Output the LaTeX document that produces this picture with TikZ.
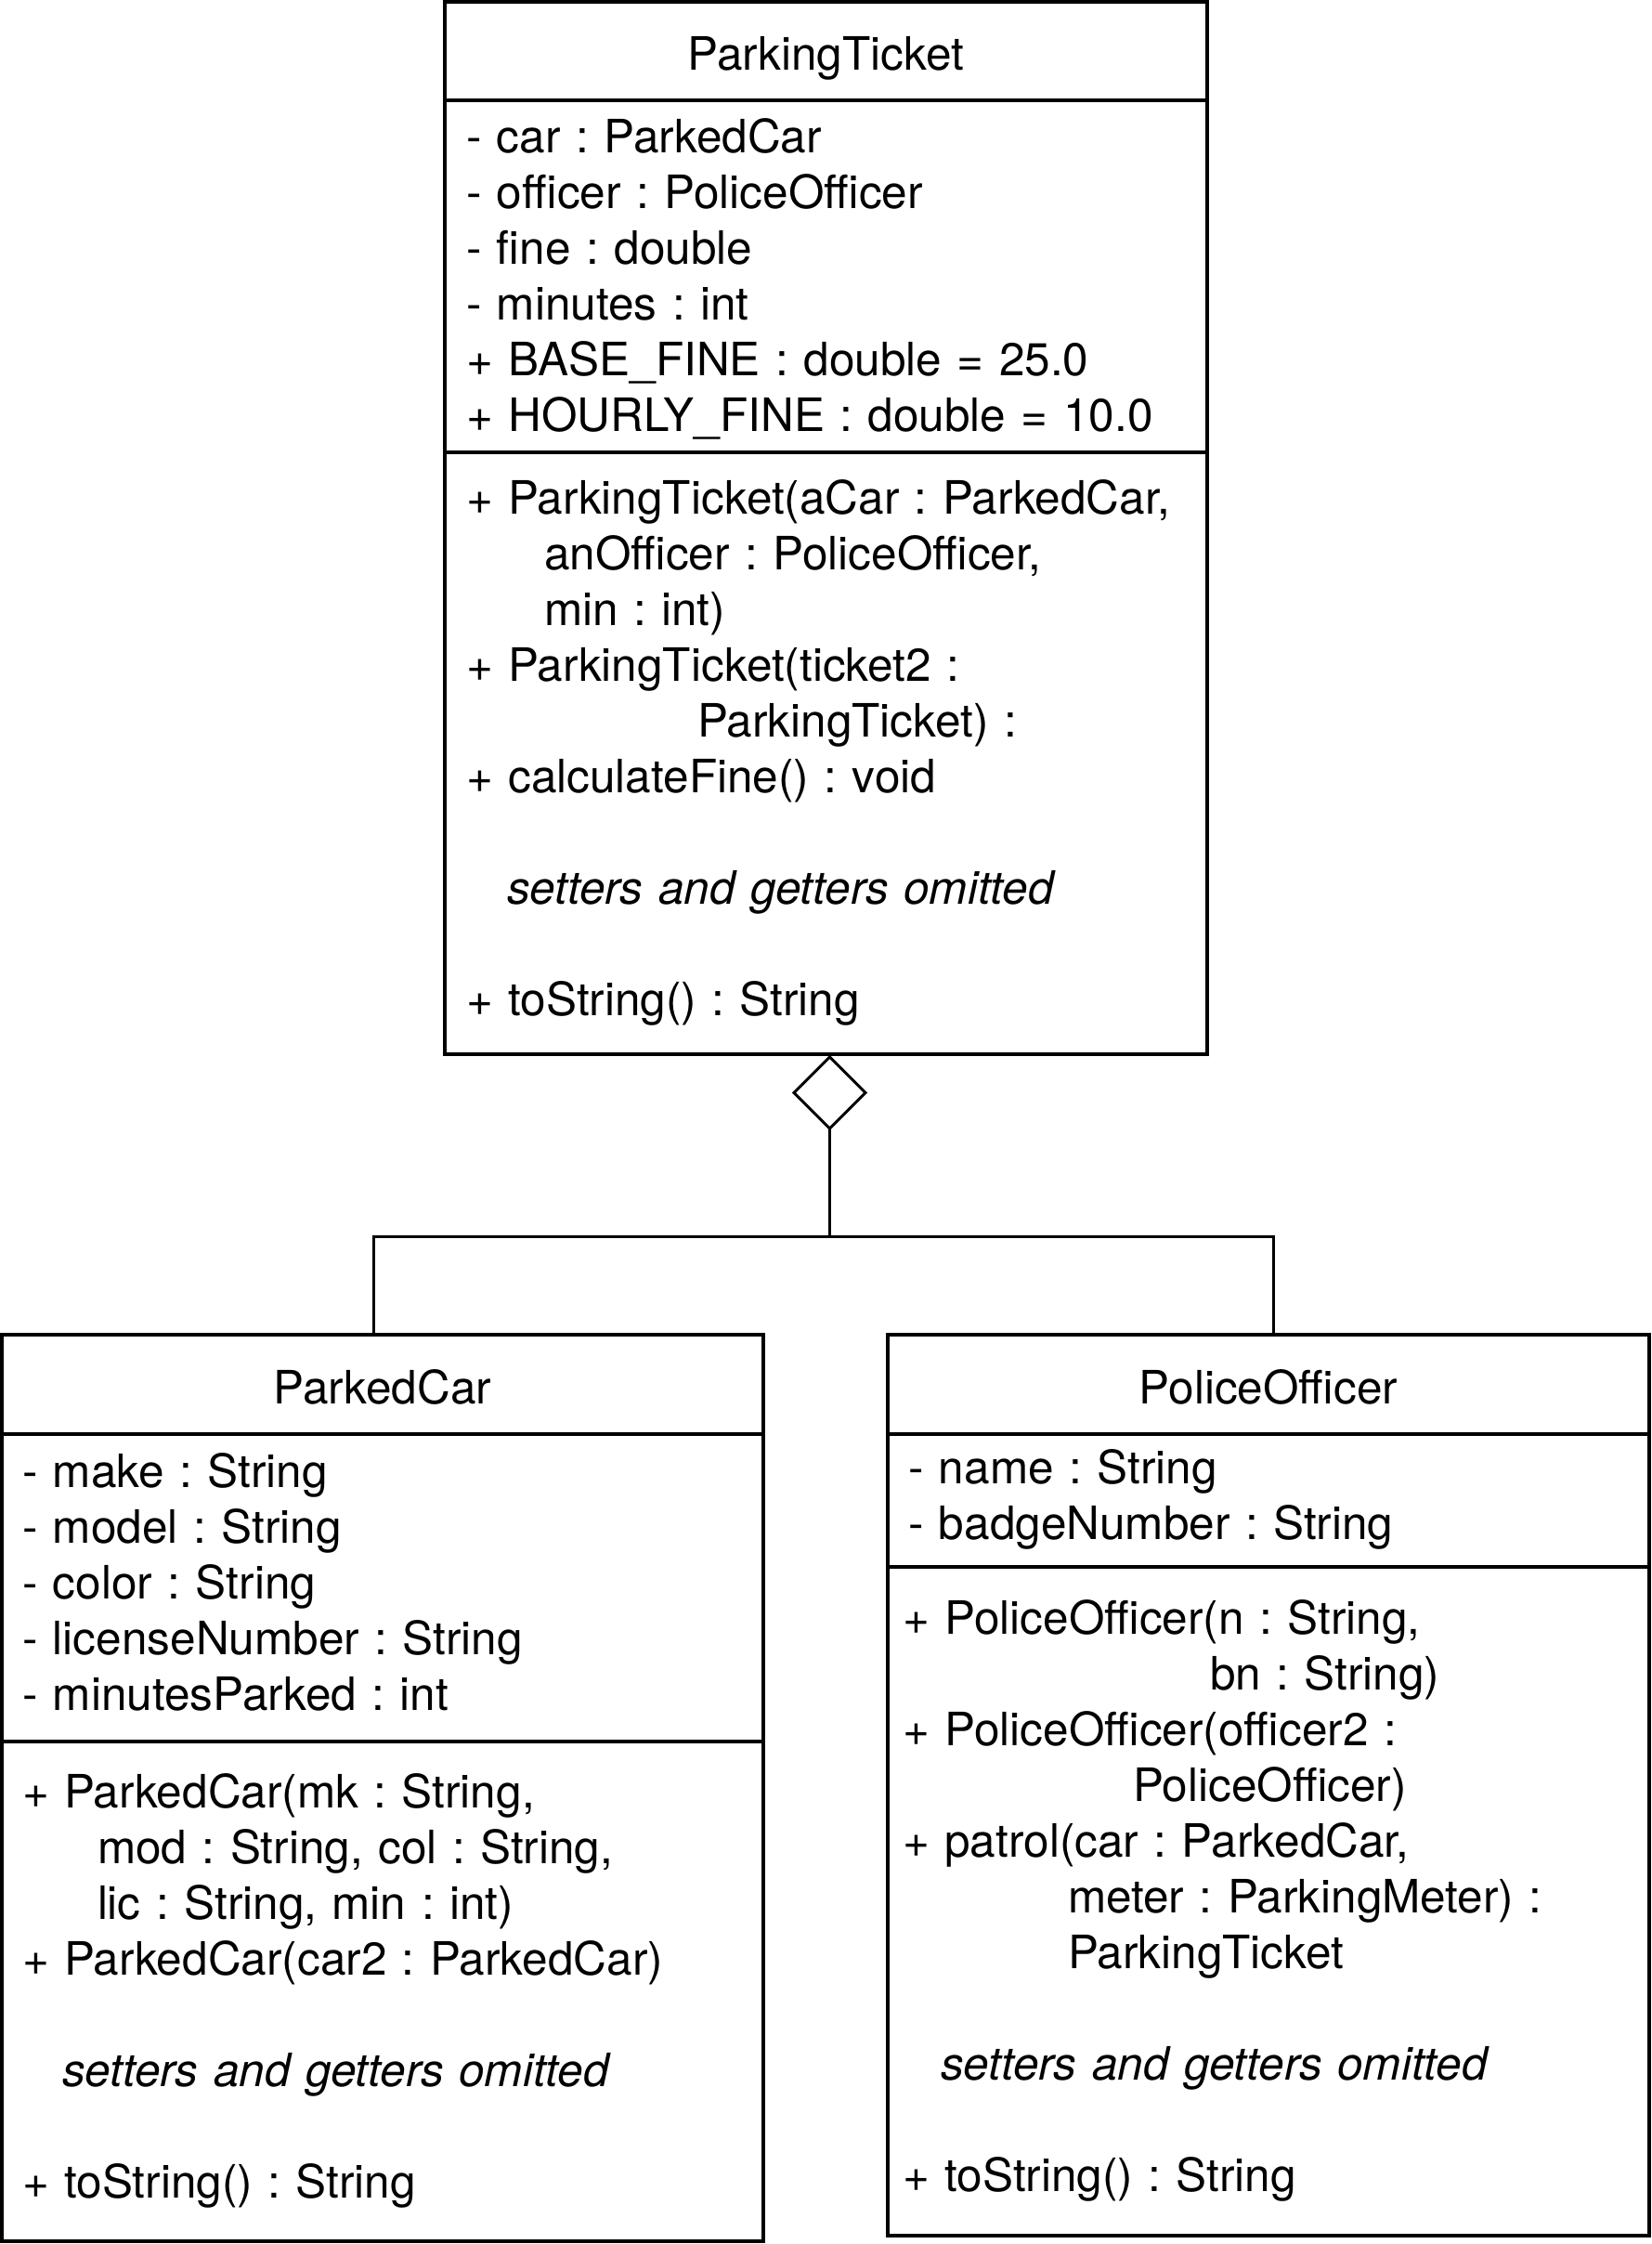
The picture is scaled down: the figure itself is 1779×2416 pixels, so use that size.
\documentclass[tikz,border=0pt]{standalone}
\usepackage{fontspec}
\setmainfont{TeX Gyre Heros}
\usetikzlibrary{positioning,shapes.geometric}
\frenchspacing

\begin{document}
\begin{tikzpicture}[x=1pt,y=-1pt,
		every node/.style={font=\fontsize{49.5pt}{60pt}\selectfont},
		classname/.style={draw,line width=4pt,outer sep=0pt,inner sep=0pt,text height=42pt,text depth=0pt},
		members/.style={draw,line width=4pt,outer sep=0pt,inner ysep=0pt,align=left,execute at begin node=\strut,execute at end node=\strut},
		link/.style={line width=3pt}]
		\useasboundingbox (0,0) rectangle (1779,2416);
		% ParkingTicket
		\node [classname,minimum width=821pt,minimum height=106pt,anchor=north] (pt-name) at (889.5,2) {ParkingTicket};
		\node [members,below=0pt of pt-name,text width=775pt,inner xsep=23pt,minimum height=379pt,execute at begin node=\rule{0pt}{52pt}] (pt-attr)
		{- car : ParkedCar\\
		- officer : PoliceOfficer\\
		- fine : double\\
		- minutes : int\\
		+ BASE\_FINE : double = 25.0\\
		+ HOURLY\_FINE : double = 10.0};
		\node [members,below=0pt of pt-attr,text width=775pt,inner xsep=23pt,minimum height=648pt] (pt-meth)
		{+ ParkingTicket(aCar : ParkedCar,\\
		\hspace*{84pt}anOfficer : PoliceOfficer,\\
		\hspace*{84pt}min : int)\\
		+ ParkingTicket(ticket2 :\\
		\hspace*{249pt}ParkingTicket) :\\
		+ calculateFine() : void\\[60pt]
		\hspace*{44pt}\textit{setters and getters omitted}\\[60pt]
		+ toString() : String};
		% ParkedCar
		\node [classname,minimum width=820pt,minimum height=107pt,anchor=north] (car-name) at (412,1437) {ParkedCar};
		\node [members,below=0pt of car-name,text width=776pt,inner xsep=22pt,minimum height=331pt] (car-attr)
		{- make : String\\
		- model : String\\
		- color : String\\
		- licenseNumber : String\\
		- minutesParked : int};
		\node [members,below=0pt of car-attr,text width=776pt,inner xsep=22pt,minimum height=538pt] (car-meth)
		{+ ParkedCar(mk : String,\\
		\hspace*{81pt}mod : String, col : String,\\
		\hspace*{81pt}lic : String, min : int)\\
		+ ParkedCar(car2 : ParkedCar)\\[60pt]
		\hspace*{43pt}\textit{setters and getters omitted}\\[60pt]
		+ toString() : String};
		% PoliceOfficer
		\node [classname,minimum width=820pt,minimum height=107pt,anchor=north] (off-name) at (1366,1437) {PoliceOfficer};
		\node [members,below=0pt of off-name,text width=776pt,inner xsep=22pt,minimum height=143pt] (off-attr)
		{- name : String\\
		- badgeNumber : String};
		\node [members,below=0pt of off-attr,text width=788pt,inner xsep=16pt,minimum height=720pt] (off-meth)
		{+ PoliceOfficer(n : String,\\
		\hspace*{331pt}bn : String)\\
		+ PoliceOfficer(officer2 :\\
		\hspace*{248pt}PoliceOfficer)\\
		+ patrol(car : ParkedCar,\\
		\hspace*{178pt}meter : ParkingMeter) :\\
		\hspace*{178pt}ParkingTicket\\[60pt]
		\hspace*{41pt}\textit{setters and getters omitted}\\[60pt]
		+ toString() : String};
		% aggregation
		\node [diamond,draw,line width=3pt,fill=white,inner sep=0pt,outer sep=0pt,minimum width=77pt,minimum height=77pt,anchor=north] (agg) at ([xshift=4pt,yshift=-3pt]pt-meth.south) {};
		\coordinate (fork) at ([yshift=-116pt]agg.south);
		\draw [link] (agg.south) -- (fork);
		\draw [link] ([xshift=-10pt]car-name.north) |- (fork) -| ([xshift=5pt]off-name.north);
	\end{tikzpicture}
\end{document}
